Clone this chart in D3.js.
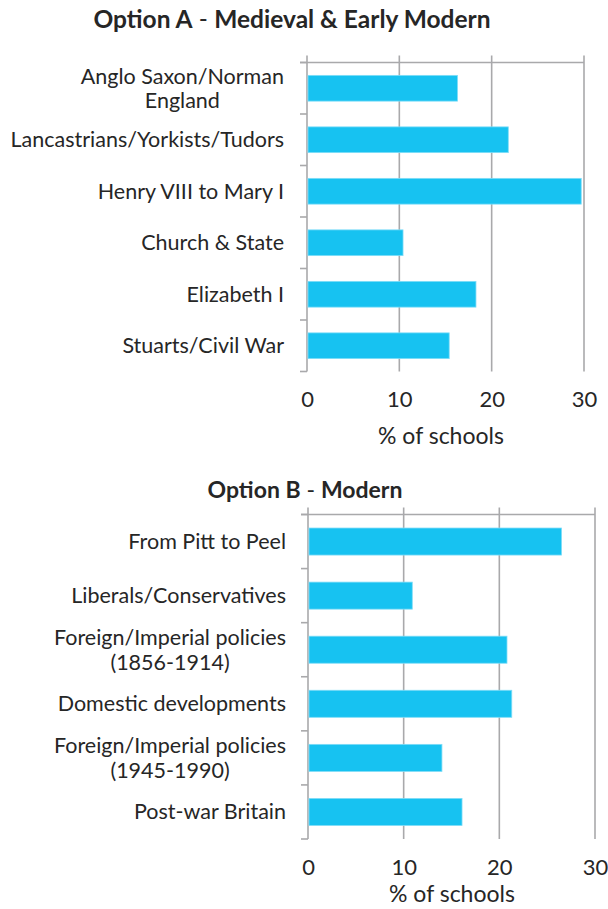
<!DOCTYPE html>
<html>
<head>
<meta charset="utf-8">
<script src="https://cdn.jsdelivr.net/npm/d3@7"></script>
<style>
  body { margin: 0; background: #fff; }
  text { font-family: Lato, "Open Sans", sans-serif; fill: #262626; }
</style>
</head>
<body>
<div id="chart"></div>
<script>
// Our canvas
const width = 608,
  height = 909

// data
const categoriesA = ['Anglo Saxon/Norman|England', 'Lancastrians/Yorkists/Tudors', 'Henry VIII to Mary I',
  'Church & State', 'Elizabeth I', 'Stuarts/Civil War']
const valuesA = [16.3, 21.8, 29.7, 10.4, 18.3, 15.4]

const categoriesB = ['From Pitt to Peel', 'Liberals/Conservatives', 'Foreign/Imperial policies|(1856-1914)',
  'Domestic developments', 'Foreign/Imperial policies|(1945-1990)', 'Post-war Britain']
const valuesB = [26.5, 10.9, 20.8, 21.3, 14.0, 16.1]

const xTicks = [0, 10, 20, 30]
const xTitle = '% of schools'

const barColor = '#17c2f1'
const gridColor = '#a9a9ab'

let svg = d3.select('#chart')
  .append('svg')
  .attr('width', width)
  .attr('height', height)

// draws one bar chart panel
let drawChart = (cfg) => {
  const g = svg.append('g')

  const xScale = d3.scaleLinear()
    .domain([0, 30])
    .range([cfg.left, cfg.right])

  const yScale = d3.scaleBand()
    .domain(cfg.categories)
    .range([cfg.top, cfg.bottom])
    .paddingInner(0.5)
    .paddingOuter(0.25)

  const step = yScale.step()

  // title
  const title = g.append('text')
    .attr('x', cfg.titleX)
    .attr('y', cfg.titleY)
    .attr('text-anchor', 'middle')
    .style('font-size', cfg.titleSize)
  title.append('tspan').style('font-weight', 'bold').text(cfg.titleA)
  title.append('tspan').text(' - ')
  title.append('tspan').style('font-weight', 'bold').text(cfg.titleB)

  // vertical gridlines
  g.selectAll('.grid')
    .data(xTicks)
    .enter()
    .append('line')
    .attr('x1', d => xScale(d))
    .attr('x2', d => xScale(d))
    .attr('y1', cfg.top - 7)
    .attr('y2', cfg.bottom)
    .style('stroke', gridColor)
    .style('stroke-width', 1.6)

  // top line
  g.append('line')
    .attr('x1', cfg.left - 7)
    .attr('x2', xScale(30))
    .attr('y1', cfg.top)
    .attr('y2', cfg.top)
    .style('stroke', gridColor)
    .style('stroke-width', 1.6)

  // category tick marks (between categories)
  g.selectAll('.ctick')
    .data(d3.range(cfg.categories.length + 1))
    .enter()
    .append('line')
    .attr('x1', cfg.left - 7)
    .attr('x2', cfg.left)
    .attr('y1', i => cfg.top + i * step)
    .attr('y2', i => cfg.top + i * step)
    .style('stroke', gridColor)
    .style('stroke-width', 1.6)

  // bars
  g.selectAll('rect')
    .data(cfg.values)
    .enter()
    .append('rect')
    .attr('x', xScale(0) + 1)
    .attr('y', (d, i) => yScale(cfg.categories[i]))
    .attr('width', d => xScale(d) - xScale(0) - 1)
    .attr('height', yScale.bandwidth())
    .style('fill', barColor)
    .style('stroke', '#7fdcf7')
    .style('stroke-width', 0.8)

  // category labels (wrapped lines centred on each other, block right aligned)
  cfg.categories.forEach((c, i) => {
    const lines = c.split('|')
    const cy = yScale(c) + yScale.bandwidth() / 2
    const t = g.append('text')
      .style('font-size', '21.5px')
    lines.forEach((l, j) => {
      t.append('tspan')
        .attr('y', cy + (j - (lines.length - 1) / 2) * cfg.lineH)
        .attr('dy', '0.35em')
        .text(l)
    })
    const spans = t.selectAll('tspan').nodes()
    const wMax = d3.max(spans, s => s.getComputedTextLength())
    t.attr('text-anchor', 'middle')
    t.selectAll('tspan').attr('x', cfg.labelRight - wMax / 2)
  })

  // x axis labels
  const xAxis = d3.axisBottom(xScale)
    .tickValues(xTicks)
    .tickSize(0)
    .tickPadding(cfg.tickPad)

  const ax = g.append('g')
    .attr('transform', `translate(0,${cfg.bottom})`)
    .call(xAxis)
  ax.select('.domain').remove()
  ax.selectAll('text')
    .style('font-size', '22px')
    .style('font-family', 'Lato, sans-serif')
    .style('fill', '#262626')

  g.append('text')
    .attr('x', cfg.xTitleX)
    .attr('y', cfg.xTitleY)
    .attr('text-anchor', 'middle')
    .style('font-size', '23px')
    .text(xTitle)
}

drawChart({
  categories: categoriesA, values: valuesA,
  left: 307, right: 584, top: 62.5, bottom: 371.5,
  titleA: 'Option A', titleB: 'Medieval & Early Modern', titleX: 292, titleY: 28, titleSize: '24.5px',
  labelRight: 284, lineH: 24, tickPad: 20, xTitleX: 441, xTitleY: 444
})

drawChart({
  categories: categoriesB, values: valuesB,
  left: 308, right: 595, top: 514.5, bottom: 839,
  titleA: 'Option B', titleB: 'Modern', titleX: 305, titleY: 498, titleSize: '23px',
  labelRight: 286, lineH: 25, tickPad: 20, xTitleX: 452, xTitleY: 902
})
</script>
</body>
</html>
